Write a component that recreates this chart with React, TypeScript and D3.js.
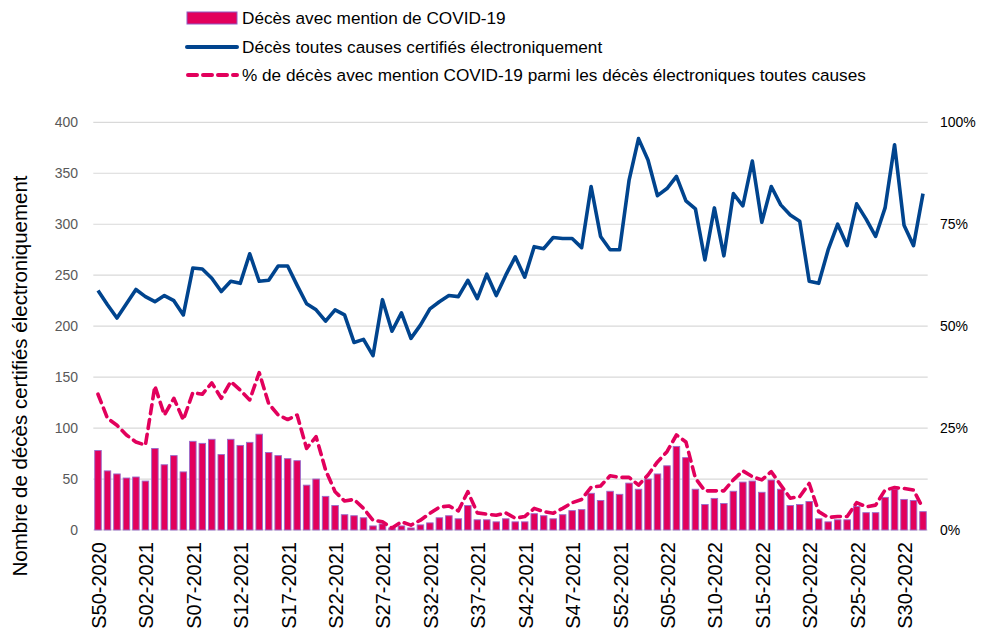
import React from "react";
import * as d3 from "d3";

const weeks = [
  "S50-2020","S51-2020","S52-2020","S53-2020",
  "S01-2021","S02-2021","S03-2021","S04-2021","S05-2021","S06-2021","S07-2021","S08-2021","S09-2021","S10-2021",
  "S11-2021","S12-2021","S13-2021","S14-2021","S15-2021","S16-2021","S17-2021","S18-2021","S19-2021","S20-2021",
  "S21-2021","S22-2021","S23-2021","S24-2021","S25-2021","S26-2021","S27-2021","S28-2021","S29-2021","S30-2021",
  "S31-2021","S32-2021","S33-2021","S34-2021","S35-2021","S36-2021","S37-2021","S38-2021","S39-2021","S40-2021",
  "S41-2021","S42-2021","S43-2021","S44-2021","S45-2021","S46-2021","S47-2021","S48-2021","S49-2021","S50-2021",
  "S51-2021","S52-2021",
  "S01-2022","S02-2022","S03-2022","S04-2022","S05-2022","S06-2022","S07-2022","S08-2022","S09-2022","S10-2022",
  "S11-2022","S12-2022","S13-2022","S14-2022","S15-2022","S16-2022","S17-2022","S18-2022","S19-2022","S20-2022",
  "S21-2022","S22-2022","S23-2022","S24-2022","S25-2022","S26-2022","S27-2022","S28-2022","S29-2022","S30-2022",
  "S31-2022","S32-2022"
];

const covidDeaths = [
  78, 58, 55, 51, 52, 48, 80, 64, 73, 57,
  87, 85, 89, 74, 89, 83, 86, 94, 76, 73,
  70, 68, 44, 50, 33, 24, 15, 14, 12, 4,
  6, 2, 4, 2, 5, 7, 12, 14, 11, 24,
  10, 10, 8, 11, 8, 8, 16, 14, 11, 15,
  19, 20, 36, 29, 38, 35, 46, 40, 50, 55,
  63, 82, 71, 40, 25, 31, 26, 38, 47, 48,
  37, 49, 40, 24, 25, 28, 11, 8, 10, 10,
  23, 17, 17, 32, 40, 30, 29, 18
];

const allCauseDeaths = [
  235, 221, 208, 222, 236, 229, 224, 230, 225, 211,
  257, 256, 247, 234, 244, 242, 271, 244, 245, 259,
  259, 240, 222, 216, 205, 216, 211, 184, 187, 171,
  226, 195, 213, 188, 201, 217, 224, 230, 229, 245,
  227, 251, 230, 250, 268, 248, 278, 276, 287, 286,
  286, 277, 337, 288, 275, 275, 343, 384, 363, 328,
  335, 347, 323, 315, 265, 316, 269, 330, 318, 362,
  302, 337, 319, 309, 303, 244, 242, 275, 300, 279,
  320, 305, 288, 316, 378, 299, 279, 330
];

const covidPct = [
  33.3, 27.4, 25.7, 23.3, 21.6, 20.8, 35.3, 28.2, 32.3, 27.0,
  33.7, 33.3, 36.1, 32.3, 36.4, 34.3, 31.9, 38.6, 31.0, 28.2,
  27.1, 28.2, 20.0, 22.9, 14.7, 9.4, 7.1, 7.5, 5.3, 2.4,
  2.0, 0.5, 2.0, 1.2, 2.4, 4.1, 5.6, 5.9, 4.7, 9.4,
  4.2, 3.9, 3.6, 4.2, 2.9, 3.3, 5.3, 4.5, 4.1, 5.3,
  6.7, 7.5, 10.5, 10.8, 13.3, 12.9, 12.9, 11.0, 13.5, 16.7,
  19.2, 23.3, 21.6, 12.7, 9.6, 9.6, 9.6, 12.3, 14.5, 13.1,
  12.3, 14.3, 11.0, 7.8, 8.2, 11.4, 4.5, 3.1, 3.3, 3.3,
  6.7, 5.7, 6.1, 9.8, 10.4, 10.2, 9.8, 5.3
];

const leftTicks = [0, 50, 100, 150, 200, 250, 300, 350, 400];
const rightTicks = [0, 25, 50, 75, 100];
const legendLabels = [
  "Décès avec mention de COVID-19",
  "Décès toutes causes certifiés électroniquement",
  "% de décès avec mention COVID-19 parmi les décès électroniques toutes causes"
];
const yTitle = "Nombre de décès certifiés électroniquement";

const PINK = "#E2005C";
const BLUE = "#00448E";
const FONT = "'Liberation Sans', Arial, sans-serif";

export default function App() {
  const W = 982, H = 632;
  const left = 93.3, right = 927.7, top = 122.3, bottom = 530;

  const x = d3.scaleBand<string>().domain(weeks).range([left, right]).paddingInner(0.31).paddingOuter(0.15);
  const yL = d3.scaleLinear().domain([0, 400]).range([bottom, top]);
  const yR = d3.scaleLinear().domain([0, 100]).range([bottom, top]);
  const cx = (i: number) => (x(weeks[i]) as number) + x.bandwidth() / 2;

  const lineTotal = d3.line<number>().x((_, i) => cx(i)).y((d) => yL(d));
  const linePct = d3.line<number>().x((_, i) => cx(i)).y((d) => yR(d));

  return (
    <svg width={W} height={H} style={{ position: "absolute", left: 0, top: 0, background: "#fff" }} fontFamily={FONT}>
      {/* legend */}
      <g>
        <rect x={187} y={12} width={50} height={12} fill={PINK} stroke="#8F5BC4" strokeWidth={1} />
        <text x={242} y={24} fontSize={17.2} fill="#000">{legendLabels[0]}</text>
        <line x1={187} x2={237} y1={47} y2={47} stroke={BLUE} strokeWidth={4} strokeLinecap="round" />
        <text x={242} y={53} fontSize={17.2} fill="#000">{legendLabels[1]}</text>
        <line x1={188} x2={237} y1={75} y2={75} stroke={PINK} strokeWidth={4} strokeDasharray="9,6" strokeLinecap="round" />
        <text x={242} y={81} fontSize={17.2} fill="#000">{legendLabels[2]}</text>
      </g>

      {/* gridlines */}
      {leftTicks.map((t) => (
        <line key={"g" + t} x1={left} x2={right} y1={yL(t)} y2={yL(t)} stroke="#D9D9D9" strokeWidth={1.2} />
      ))}

      {/* left ticks */}
      {leftTicks.map((t) => (
        <text key={"l" + t} x={78} y={yL(t) + 5} textAnchor="end" fontSize={14} fill="#595959">{t}</text>
      ))}
      {/* right ticks */}
      {rightTicks.map((t) => (
        <text key={"r" + t} x={940} y={yR(t) + 5} textAnchor="start" fontSize={14} fill="#000">{t + "%"}</text>
      ))}

      {/* y title */}
      <text transform={`translate(27,376) rotate(-90)`} textAnchor="middle" fontSize={20.5} fill="#000">{yTitle}</text>

      {/* bars */}
      {covidDeaths.map((v, i) => (
        <rect key={"b" + i} x={x(weeks[i])} y={yL(v)} width={x.bandwidth()} height={bottom - yL(v)}
          fill={PINK} stroke="#9A6BCB" strokeWidth={0.9} />
      ))}

      {/* total line */}
      <path d={lineTotal(allCauseDeaths) || ""} fill="none" stroke={BLUE} strokeWidth={3.6} strokeLinejoin="round" />

      {/* pct dashed line */}
      <path d={linePct(covidPct) || ""} fill="none" stroke={PINK} strokeWidth={3.6} strokeDasharray="9,6" strokeLinejoin="round" strokeLinecap="round" />

      {/* x labels */}
      {weeks.map((w, i) => (i % 5 === 0 ? (
        <text key={"x" + i} transform={`translate(${cx(i) + 8},542) rotate(-90)`} textAnchor="end" fontSize={20} fill="#000">{w}</text>
      ) : null))}
    </svg>
  );
}
